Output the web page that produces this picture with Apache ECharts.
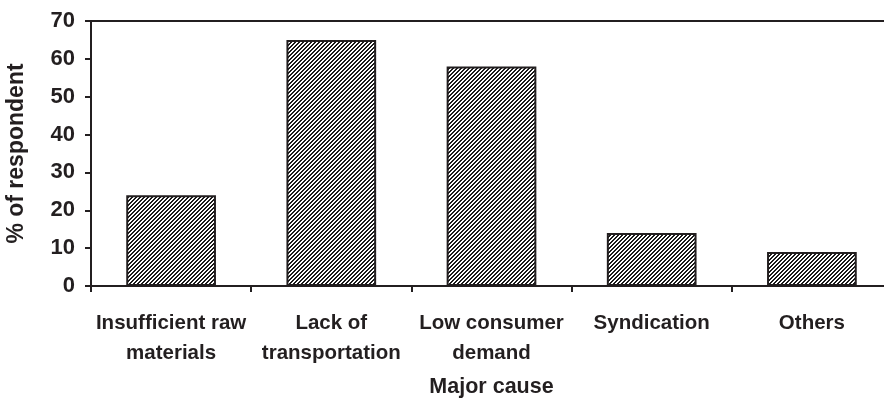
<!DOCTYPE html>
<html>
<head>
<meta charset="utf-8">
<script src="https://cdn.jsdelivr.net/npm/echarts@6/dist/echarts.min.js"></script>
<style>
  html, body { margin: 0; padding: 0; background: #fff; }
  #chart { width: 884px; height: 400px; }
</style>
</head>
<body>
<div id="chart"></div>
<script>
// data
const causes = ['Insufficient raw\nmaterials', 'Lack of\ntransportation', 'Low consumer\ndemand', 'Syndication', 'Others'];
const respondents = [24, 65, 58, 14, 9];

const ink = '#231f20';
const font = 'Liberation Sans, Arial, sans-serif';

// diagonal hatch tile
function hatch() {
  const c = document.createElement('canvas');
  c.width = 4; c.height = 4;
  const ctx = c.getContext('2d');
  ctx.fillStyle = '#fff';
  ctx.fillRect(0, 0, 4, 4);
  ctx.fillStyle = '#1a1a1a';
  for (let x = 0; x < 4; x++) {
    for (let y = 0; y < 4; y++) {
      if ((x + y) % 4 < 2) ctx.fillRect(x, y, 1, 1);
    }
  }
  return c;
}

let myChart = echarts.init(document.getElementById('chart'));
let option = {
  animation: false,
  grid: {
    left: 91, width: 801, top: 21, height: 265,
    outerBoundsMode: 'none',
    show: true, borderColor: ink, borderWidth: 2
  },
  xAxis: {
    type: 'category',
    data: causes,
    name: 'Major cause',
    nameLocation: 'middle',
    nameGap: 90,
    nameTextStyle: { color: ink, fontFamily: font, fontWeight: 'bold', fontSize: 21.5 },
    axisLine: { lineStyle: { color: ink, width: 2 } },
    axisTick: { show: true, length: 6, lineStyle: { color: ink, width: 2 } },
    axisLabel: {
      color: ink, fontFamily: font, fontWeight: 'bold', fontSize: 20.5,
      lineHeight: 30, margin: 22, interval: 0
    }
  },
  yAxis: {
    type: 'value',
    min: 0, max: 70, interval: 10,
    name: '% of respondent',
    nameLocation: 'middle',
    nameGap: 63,
    nameTextStyle: { color: ink, fontFamily: font, fontWeight: 'bold', fontSize: 23 },
    axisLine: { show: true, lineStyle: { color: ink, width: 2 } },
    axisTick: { show: true, length: 6, lineStyle: { color: ink, width: 2 } },
    axisLabel: { color: ink, fontFamily: font, fontWeight: 'bold', fontSize: 22, margin: 16 },
    splitLine: { show: false }
  },
  series: [{
    type: 'bar',
    data: respondents,
    barWidth: '56%',
    itemStyle: {
      color: { image: hatch(), repeat: 'repeat' },
      borderColor: ink,
      borderWidth: 2
    }
  }]
};
myChart.setOption(option);
window.onresize = myChart.resize;
</script>
</body>
</html>
